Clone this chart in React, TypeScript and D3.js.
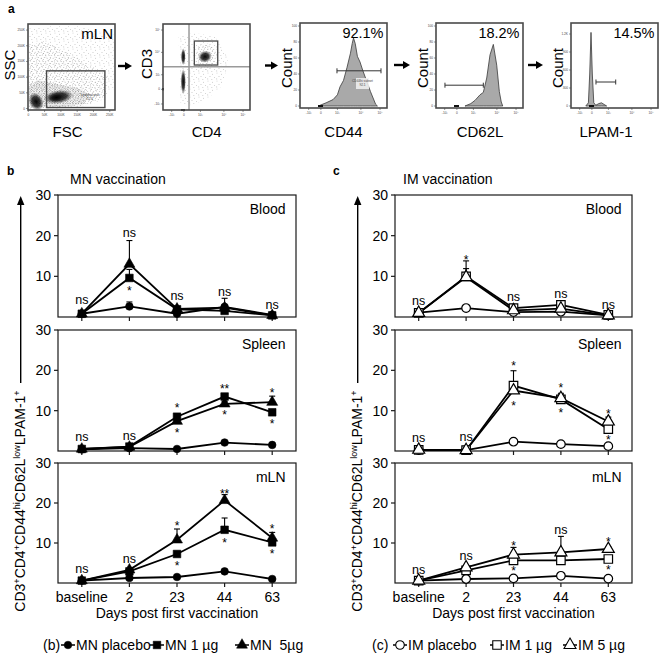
import * as d3 from "d3";

const FONT = "'Liberation Sans', Arial, Helvetica, sans-serif";

// ---------- line charts: % CD3+CD4+CD44hiCD62LlowLPAM-1+ ----------
const days = ["baseline", "2", "23", "44", "63"];
const yTicks = [10, 20, 30];

// MN vaccination
const mnPlaceboBlood = [0.8, 2.6, 0.8, 2.5, 0.5];
const mn1Blood = [0.8, 9.6, 1.9, 1.5, 0.4];
const mn5Blood = [0.8, 13.0, 2.0, 2.3, 0.4];
const mnPlaceboBloodErr = [0, 1.1, 0, 0, 0];
const mn1BloodErr = [0, 2.1, 0, 0.3, 0];
const mn5BloodErr = [0, 5.8, 0, 2.3, 0];

const mnPlaceboSpleen = [0.4, 0.7, 0.5, 2.1, 1.5];
const mn1Spleen = [0.5, 1.1, 8.5, 13.5, 9.6];
const mn5Spleen = [0.5, 1.0, 7.4, 11.7, 12.1];
const mnPlaceboSpleenErr = [0, 0, 0, 0, 0];
const mn1SpleenErr = [0, 0, 0.5, 0.5, 0.5];
const mn5SpleenErr = [0, 0, 0.5, 0.6, 1.5];

const mnPlaceboMln = [0.6, 1.25, 1.5, 2.9, 1.0];
const mn1Mln = [0.6, 2.9, 7.25, 13.3, 10.15];
const mn5Mln = [0.6, 3.3, 10.8, 20.65, 11.25];
const mnPlaceboMlnErr = [0, 0, 0, 0, 0];
const mn1MlnErr = [0, 0, 0, 2.95, 0.8];
const mn5MlnErr = [0, 0, 2.7, 1.45, 1.4];

// IM vaccination
const imPlaceboBlood = [1.1, 2.2, 1.2, 1.3, 0.4];
const im1Blood = [1.0, 10.0, 2.2, 3.0, 0.5];
const im5Blood = [1.0, 9.8, 1.65, 2.05, 0.4];
const imPlaceboBloodErr = [0, 0, 0, 0, 0];
const im1BloodErr = [0, 3.8, 0, 0.3, 0];
const im5BloodErr = [0, 2.1, 0, 0, 0];

const imPlaceboSpleen = [0.25, 0.2, 2.3, 1.7, 1.2];
const im1Spleen = [0.3, 0.2, 16.2, 12.8, 5.4];
const im5Spleen = [0.3, 0.2, 15.0, 13.1, 7.3];
const imPlaceboSpleenErr = [0, 0, 0, 0, 0];
const im1SpleenErr = [0, 0, 3.7, 1.5, 0.5];
const im5SpleenErr = [0, 0, 0.8, 0.8, 1.1];

const imPlaceboMln = [0.6, 1.0, 1.15, 1.8, 1.1];
const im1Mln = [0.6, 3.15, 5.65, 5.65, 6.0];
const im5Mln = [0.6, 3.9, 7.1, 7.65, 8.5];
const imPlaceboMlnErr = [0, 0, 0, 0, 0];
const im1MlnErr = [0, 0, 0, 0, 0];
const im5MlnErr = [0, 0, 1.8, 4.0, 0.5];

// significance marks: [day index, label, value where the label sits]
type Note = [number, string, number];
const mnBloodNotes: Note[] = [[0, "ns", 4.1], [1, "ns", 20.4], [1, "*", 7.1], [2, "ns", 4.9], [3, "ns", 6.0], [4, "ns", 2.9]];
const mnSpleenNotes: Note[] = [[0, "ns", 3.4], [1, "ns", 3.5], [2, "*", 11.4], [2, "*", 5.2], [3, "**", 16.0], [3, "*", 9.5], [4, "*", 15.0], [4, "*", 7.3]];
const mnMlnNotes: Note[] = [[0, "ns", 3.3], [1, "ns", 5.8], [2, "*", 15.0], [2, "*", 5.0], [3, "**", 22.9], [3, "*", 10.8], [4, "*", 14.2], [4, "*", 7.9]];
const imBloodNotes: Note[] = [[0, "ns", 3.7], [1, "*", 14.8], [2, "ns", 4.7], [3, "ns", 5.4], [4, "ns", 2.7]];
const imSpleenNotes: Note[] = [[0, "ns", 3.0], [1, "ns", 3.2], [2, "*", 21.8], [2, "*", 11.8], [3, "*", 16.4], [3, "*", 10.0], [4, "*", 9.8], [4, "*", 3.5]];
const imMlnNotes: Note[] = [[0, "ns", 3.2], [1, "ns", 6.5], [2, "*", 10.0], [2, "*", 3.75], [3, "ns", 13.1], [4, "*", 11.0], [4, "*", 3.9]];

const mnLegend = ["MN placebo", "MN 1 µg", "MN\u00a0 5µg"];
const imLegend = ["IM placebo", "IM 1 µg", "IM 5 µg"];

// ---------- flow cytometry panel (a) ----------
// histograms: [position along axis 0..1, count 0..100]
const cd44Hist = [[0.21, 0], [0.3, 4], [0.38, 8], [0.43, 14], [0.46, 24], [0.5, 32], [0.54, 48], [0.58, 66], [0.6, 78], [0.615, 85], [0.635, 78], [0.66, 62], [0.69, 55], [0.72, 45], [0.77, 30], [0.81, 18], [0.84, 10], [0.87, 2], [0.89, 0]];
const cd62lHist = [[0.333, 0], [0.4, 3], [0.448, 7], [0.506, 14], [0.544, 17], [0.583, 35], [0.621, 64], [0.659, 77], [0.698, 51], [0.728, 18], [0.75, 5], [0.767, 0]];
const lpamHist = [[0.17, 0], [0.2, 4], [0.215, 40], [0.23, 92], [0.245, 40], [0.262, 4], [0.285, 1], [0.32, 3], [0.35, 4], [0.38, 2], [0.41, 0]];
const cd44Gate = [0.425, 0.931, 44];
const cd62lGate = [0.103, 0.544, 26];
const lpamGate = [0.287, 0.514, 30];

const logTicks = [0.1, 0.24, 0.43, 0.7, 0.92];
const logTickLabels = ["-10³", "0", "10³", "10⁴", "10⁵"];
const countTicks = [0, 20, 40, 60, 80, 100];
const lpamCountTicks = [0, 22.5, 45, 67.5, 90];
const lpamCountLabels = ["0", "300", "600", "900", "1.2K"];
const linTicks = [0, 50, 100, 150, 200, 250];

// FSC/SSC (thousands)
const fscSparse = [[0, 0], [0, 255], [70, 262], [150, 262], [262, 235], [262, 60], [200, 15], [100, 0]];
const fscMid = [[0, 0], [0, 200], [50, 215], [150, 160], [245, 105], [235, 30], [160, 5]];
const fscDense = [[4, 3], [0, 70], [30, 90], [80, 80], [150, 65], [190, 45], [170, 14], [100, 4]];
const fscBlobs = [
  { a: 24, b: 22, rx: 22, ry: 30, angle: -25 },
  { a: 92, b: 37, rx: 46, ry: 22, angle: -8 },
  { a: 86, b: 35, rx: 24, ry: 13, angle: -8 },
];
const lymphGate = [56, 235, 3, 120];

// CD4 / CD3 (axis position 0..1)
const cd4Sparse = [[0.2, 0.08], [0.18, 0.85], [0.35, 0.9], [0.6, 0.85], [0.75, 0.6], [0.7, 0.3], [0.5, 0.12], [0.3, 0.05]];
const cd4Dense = [[0.38, 0.5], [0.37, 0.72], [0.5, 0.78], [0.62, 0.7], [0.6, 0.52], [0.48, 0.46]];
const cd4Blobs = [
  { a: 0.233, b: 0.62, rx: 0.028, ry: 0.1, angle: 0 },
  { a: 0.233, b: 0.33, rx: 0.03, ry: 0.15, angle: 0 },
  { a: 0.483, b: 0.62, rx: 0.08, ry: 0.07, angle: -20 },
];
const cd3Gate = [0.36, 0.629, 0.523, 0.802];
const cd4Quadrant = [0.299, 0.503];
const cd3TickPos = [0.07, 0.24, 0.41, 0.67, 0.93];

const INK = "#1a1a1a";
const FRAME = "#4a4a4a";

type Shape = "circle" | "square" | "triangle";
type Series = { values: number[]; err: number[]; shape: Shape };

function symbolPath(shape: Shape, open: boolean) {
  const type = shape === "circle" ? d3.symbolCircle : shape === "square" ? d3.symbolSquare : d3.symbolTriangle;
  const size = shape === "circle" ? (open ? 58 : 46) : shape === "square" ? (open ? 72 : 58) : open ? 62 : 52;
  return d3.symbol().type(type).size(size)() as string;
}

function LinePanel({
  left, right, top, bottom, tissue, series, notes, open, showDays,
}: {
  left: number; right: number; top: number; bottom: number; tissue: string;
  series: Series[]; notes: Note[]; open: boolean; showDays: boolean;
}) {
  const x = d3.scalePoint<string>().domain(days).range([left, right]).padding(0.5);
  const y = d3.scaleLinear().domain([0, 30]).range([bottom, top]);
  const line = d3.line<number>().x((_, i) => x(days[i]) as number).y((d) => y(d));
  return (
    <g fill="#000">
      <rect x={left} y={top} width={right - left} height={bottom - top} fill="none" stroke={INK} strokeWidth={1.2} />
      {yTicks.map((t) => (
        <g key={t}>
          <line x1={left - 4} x2={left} y1={y(t)} y2={y(t)} stroke={INK} strokeWidth={1.2} />
          <text x={left - 7} y={y(t) + 5} textAnchor="end" fontSize={14}>{t}</text>
        </g>
      ))}
      {days.map((d) => (
        <line key={d} x1={x(d)} x2={x(d)} y1={bottom} y2={bottom + 4} stroke={INK} strokeWidth={1.2} />
      ))}
      {showDays && days.map((d) => (
        <text key={"l" + d} x={x(d)} y={bottom + 18.5} textAnchor="middle" fontSize={14}>{d}</text>
      ))}
      {showDays && (
        <text x={(left + right) / 2} y={bottom + 35} textAnchor="middle" fontSize={14}>Days post first vaccination</text>
      )}
      <text x={right - 10.5} y={top + 19} textAnchor="end" fontSize={14}>{tissue}</text>
      {series.map((s, k) => (
        <path key={"p" + k} d={line(s.values) as string} fill="none" stroke="#000" strokeWidth={1.8} />
      ))}
      {series.map((s, k) =>
        s.err.map((e, i) => {
          if (e <= 0) return null;
          const cx = x(days[i]) as number;
          return (
            <g key={"e" + k + i} stroke="#000" strokeWidth={1.1}>
              <line x1={cx} x2={cx} y1={y(s.values[i])} y2={y(s.values[i] + e)} />
              <line x1={cx - 3} x2={cx + 3} y1={y(s.values[i] + e)} y2={y(s.values[i] + e)} />
            </g>
          );
        })
      )}
      {series.map((s, k) =>
        s.values.map((v, i) => (
          <path
            key={"m" + k + i}
            transform={`translate(${x(days[i])},${y(v)})`}
            d={symbolPath(s.shape, open)}
            fill={open ? "#fff" : "#000"}
            stroke="#000"
            strokeWidth={open ? 1.2 : 0.6}
          />
        ))
      )}
      {notes.map(([i, label, v], k) => (
        <text
          key={"n" + k}
          x={x(days[i])}
          y={y(v) + (label === "ns" ? 3.3 : 6.8)}
          textAnchor="middle"
          fontSize={label === "ns" ? 12.5 : 12}
          fill="#000"
        >
          {label}
        </text>
      ))}
    </g>
  );
}

function YLabel({ x }: { x: number }) {
  return (
    <g>
      <line x1={x - 4.3} x2={x - 4.3} y1={383} y2={203} stroke="#000" strokeWidth={1.4} />
      <path d={`M${x - 4.3},196 L${x - 8},205 L${x - 0.6},205 Z`} fill="#000" />
      <text transform={`translate(${x},501) rotate(-90)`} textAnchor="middle" fontSize={14}>
        CD3<tspan dy={-5} fontSize={9}>+</tspan>
        <tspan dy={5}>CD4</tspan><tspan dy={-5} fontSize={9}>+</tspan>
        <tspan dy={5}>CD44</tspan><tspan dy={-5} fontSize={9}>hi</tspan>
        <tspan dy={5}>CD62L</tspan><tspan dy={-5} fontSize={9}>low</tspan>
        <tspan dy={5}>LPAM-1</tspan><tspan dy={-5} fontSize={9}>+</tspan>
      </text>
    </g>
  );
}

function Legend({ tag, labels, open, starts }: { tag: string; labels: string[]; open: boolean; starts: number[] }) {
  const shapes: Shape[] = ["circle", "square", "triangle"];
  const y = 650;
  return (
    <g fontSize={14}>
      <text x={starts[0]} y={y}>{tag}</text>
      {labels.map((l, i) => {
        const x0 = starts[i + 1];
        return (
          <g key={l}>
            <line x1={x0} x2={x0 + 14} y1={y - 5} y2={y - 5} stroke="#000" strokeWidth={1.5} />
            <path
              transform={`translate(${x0 + 7},${y - 5})`}
              d={symbolPath(shapes[i], open)}
              fill={open ? "#fff" : "#000"}
              stroke="#000"
              strokeWidth={open ? 1.1 : 0.5}
            />
            <text x={x0 + 15} y={y}>{l}</text>
          </g>
        );
      })}
    </g>
  );
}

function Arrow({ x1, x2, y }: { x1: number; x2: number; y: number }) {
  return (
    <g>
      <line x1={x1} x2={x2 - 5} y1={y} y2={y} stroke="#000" strokeWidth={2.4} />
      <path d={`M${x2},${y} L${x2 - 7},${y - 4} L${x2 - 7},${y + 4} Z`} fill="#000" />
    </g>
  );
}

function Blob({ cx, cy, rx, ry, angle }: { cx: number; cy: number; rx: number; ry: number; angle: number }) {
  return (
    <ellipse cx={0} cy={0} rx={rx} ry={ry} fill="url(#blobGrad)" transform={`translate(${cx},${cy}) rotate(${angle})`} />
  );
}

function TinyText(props: any) {
  return <text fontSize={3.2} fill="#444" textAnchor="middle" {...props} />;
}

function FscPlot() {
  const L = 28, R = 115, T = 24, B = 110;
  const x = d3.scaleLinear().domain([0, 266]).range([28.3, 115]);
  const y = d3.scaleLinear().domain([0, 262]).range([108.5, 26.3]);
  const poly = (pts: number[][]) => (d3.line<number[]>().x((d) => x(d[0])).y((d) => y(d[1]))(pts) as string) + "Z";
  return (
    <g>
      <clipPath id="clipFsc"><rect x={L} y={T} width={R - L} height={B - T} /></clipPath>
      <g clipPath="url(#clipFsc)">
        <path d={poly(fscSparse)} fill="url(#stipA)" />
        <path d={poly(fscMid)} fill="url(#stipB)" />
        <path d={poly(fscDense)} fill="url(#stipC)" opacity={0.5} />
        {fscBlobs.map((b, i) => (
          <Blob key={i} cx={x(b.a)} cy={y(b.b)} rx={x(b.rx) - x(0)} ry={y(0) - y(b.ry)} angle={b.angle} />
        ))}
      </g>
      <rect x={x(lymphGate[0])} y={y(lymphGate[3])} width={x(lymphGate[1]) - x(lymphGate[0])} height={y(lymphGate[2]) - y(lymphGate[3])} fill="none" stroke={FRAME} strokeWidth={1.4} />
      <TinyText x={90} y={96}>Lymphocytes</TinyText>
      <TinyText x={90} y={100}>52.6</TinyText>
      <rect x={L} y={T} width={R - L} height={B - T} fill="none" stroke={FRAME} strokeWidth={1.6} />
      {linTicks.map((t) => (
        <g key={t}>
          <line x1={x(t)} x2={x(t)} y1={B} y2={B + 2} stroke={FRAME} strokeWidth={0.6} />
          <TinyText x={x(t)} y={B + 6}>{t === 0 ? "0" : t + "K"}</TinyText>
          <line x1={L - 2} x2={L} y1={y(t)} y2={y(t)} stroke={FRAME} strokeWidth={0.6} />
          <TinyText x={L - 3} y={y(t) + 1} textAnchor="end">{t === 0 ? "0" : t + "K"}</TinyText>
        </g>
      ))}
      <text x={113} y={38.5} textAnchor="end" fontSize={15}>mLN</text>
      <text transform="translate(15,65) rotate(-90)" textAnchor="middle" fontSize={15}>SSC</text>
      <text x={67.5} y={136.5} textAnchor="middle" fontSize={15}>FSC</text>
    </g>
  );
}

function Cd4Plot() {
  const L = 163, R = 250, T = 24, B = 110;
  const x = d3.scaleLinear().domain([0, 1]).range([L, R]);
  const y = d3.scaleLinear().domain([0, 1]).range([B, T]);
  const poly = (pts: number[][]) => (d3.line<number[]>().x((d) => x(d[0])).y((d) => y(d[1]))(pts) as string) + "Z";
  return (
    <g>
      <clipPath id="clipCd4"><rect x={L} y={T} width={R - L} height={B - T} /></clipPath>
      <g clipPath="url(#clipCd4)">
        <path d={poly(cd4Sparse)} fill="url(#stipA)" />
        <path d={poly(cd4Dense)} fill="url(#stipB)" />
        {cd4Blobs.map((b, i) => (
          <Blob key={i} cx={x(b.a)} cy={y(b.b)} rx={x(b.rx) - x(0)} ry={y(0) - y(b.ry)} angle={b.angle} />
        ))}
      </g>
      <line x1={x(cd4Quadrant[0])} x2={x(cd4Quadrant[0])} y1={T} y2={B} stroke="#8a8a8a" strokeWidth={1.3} />
      <line x1={L} x2={R} y1={y(cd4Quadrant[1])} y2={y(cd4Quadrant[1])} stroke="#9a9a9a" strokeWidth={1.4} />
      <rect x={x(cd3Gate[0])} y={y(cd3Gate[3])} width={x(cd3Gate[1]) - x(cd3Gate[0])} height={y(cd3Gate[2]) - y(cd3Gate[3])} fill="none" stroke={FRAME} strokeWidth={1.3} />
      <rect x={L - 1} y={88} width={2} height={2.4} fill="#111" />
      <rect x={181} y={B - 1} width={4} height={2} fill="#111" />
      <rect x={L} y={T} width={R - L} height={B - T} fill="none" stroke={FRAME} strokeWidth={1.6} />
      {logTicks.map((t, i) => (
        <g key={t}>
          <line x1={x(t)} x2={x(t)} y1={B} y2={B + 2} stroke={FRAME} strokeWidth={0.6} />
          <TinyText x={x(t)} y={B + 6}>{logTickLabels[i]}</TinyText>
          <line x1={L - 2} x2={L} y1={y(cd3TickPos[i])} y2={y(cd3TickPos[i])} stroke={FRAME} strokeWidth={0.6} />
          <TinyText x={L - 3} y={y(cd3TickPos[i]) + 1} textAnchor="end">{logTickLabels[i]}</TinyText>
        </g>
      ))}
      <text transform="translate(151.5,64) rotate(-90)" textAnchor="middle" fontSize={15}>CD3</text>
      <text x={206.7} y={136.5} textAnchor="middle" fontSize={15}>CD4</text>
    </g>
  );
}

function HistPlot({
  left, hist, gate, pct, xLabel, xLabelX, ticks, tickLabels, extra,
}: {
  left: number; hist: number[][]; gate: number[]; pct: string; xLabel: string; xLabelX: number;
  ticks: number[]; tickLabels: string[]; extra?: boolean;
}) {
  const L = left, R = left + 87, T = 23, B = 108;
  const x = d3.scaleLinear().domain([0, 1]).range([L, R]);
  const y = d3.scaleLinear().domain([0, 100]).range([106, 26]);
  const area = d3.area<number[]>().x((d) => x(d[0])).y0(y(0)).y1((d) => y(d[1]));
  const gy = y(gate[2]);
  return (
    <g>
      <path d={area(hist) as string} fill="#a9a9a9" stroke="#3a3a3a" strokeWidth={0.8} />
      <rect x={x(0.23) - 2} y={105} width={5} height={2} fill="#111" />
      <g stroke="#333" strokeWidth={1}>
        <line x1={x(gate[0])} x2={x(gate[1])} y1={gy} y2={gy} />
        <line x1={x(gate[0])} x2={x(gate[0])} y1={gy - 2.5} y2={gy + 2.5} />
        <line x1={x(gate[1])} x2={x(gate[1])} y1={gy - 2.5} y2={gy + 2.5} />
      </g>
      {extra && (
        <g>
          <rect x={356} y={78} width={13} height={11} fill="#f2f2f2" opacity={0.85} />
          <TinyText x={362.5} y={82}>CD44hi subset</TinyText>
          <TinyText x={362.5} y={86}>92.1</TinyText>
        </g>
      )}
      <rect x={L} y={T} width={R - L} height={B - T} fill="none" stroke={FRAME} strokeWidth={1.6} />
      {logTicks.map((t, i) => (
        <g key={t}>
          <line x1={x(t)} x2={x(t)} y1={B} y2={B + 2} stroke={FRAME} strokeWidth={0.6} />
          <TinyText x={x(t)} y={B + 6}>{logTickLabels[i]}</TinyText>
        </g>
      ))}
      {ticks.map((t, i) => (
        <g key={"y" + t}>
          <line x1={L - 2} x2={L} y1={y(t)} y2={y(t)} stroke={FRAME} strokeWidth={0.6} />
          <TinyText x={L - 3} y={y(t) + 1} textAnchor="end">{tickLabels[i]}</TinyText>
        </g>
      ))}
      <text x={R - 3.5} y={38} textAnchor="end" fontSize={14.5}>{pct}</text>
      <text transform={`translate(${L - 8.5},68) rotate(-90)`} textAnchor="middle" fontSize={15}>Count</text>
      <text x={xLabelX} y={136.5} textAnchor="middle" fontSize={15}>{xLabel}</text>
    </g>
  );
}

export default function App() {
  const mnBlood: Series[] = [
    { values: mnPlaceboBlood, err: mnPlaceboBloodErr, shape: "circle" },
    { values: mn1Blood, err: mn1BloodErr, shape: "square" },
    { values: mn5Blood, err: mn5BloodErr, shape: "triangle" },
  ];
  const mnSpleen: Series[] = [
    { values: mnPlaceboSpleen, err: mnPlaceboSpleenErr, shape: "circle" },
    { values: mn1Spleen, err: mn1SpleenErr, shape: "square" },
    { values: mn5Spleen, err: mn5SpleenErr, shape: "triangle" },
  ];
  const mnMln: Series[] = [
    { values: mnPlaceboMln, err: mnPlaceboMlnErr, shape: "circle" },
    { values: mn1Mln, err: mn1MlnErr, shape: "square" },
    { values: mn5Mln, err: mn5MlnErr, shape: "triangle" },
  ];
  const imBlood: Series[] = [
    { values: imPlaceboBlood, err: imPlaceboBloodErr, shape: "circle" },
    { values: im1Blood, err: im1BloodErr, shape: "square" },
    { values: im5Blood, err: im5BloodErr, shape: "triangle" },
  ];
  const imSpleen: Series[] = [
    { values: imPlaceboSpleen, err: imPlaceboSpleenErr, shape: "circle" },
    { values: im1Spleen, err: im1SpleenErr, shape: "square" },
    { values: im5Spleen, err: im5SpleenErr, shape: "triangle" },
  ];
  const imMln: Series[] = [
    { values: imPlaceboMln, err: imPlaceboMlnErr, shape: "circle" },
    { values: im1Mln, err: im1MlnErr, shape: "square" },
    { values: im5Mln, err: im5MlnErr, shape: "triangle" },
  ];

  return (
    <div style={{ position: "absolute", left: 0, top: 0 }}>
      <svg width={660} height={656} style={{ display: "block", background: "#fff" }} fontFamily={FONT}>
        <defs>
          <radialGradient id="blobGrad">
            <stop offset="0" stopColor="#000" stopOpacity={0.97} />
            <stop offset="0.55" stopColor="#111" stopOpacity={0.8} />
            <stop offset="1" stopColor="#333" stopOpacity={0} />
          </radialGradient>
          {/* stipple tiles standing in for the sparse dot cloud */}
          <pattern id="stipA" width={9} height={8} patternUnits="userSpaceOnUse">
            <circle cx={1} cy={1} r={0.36} fill="#666" />
            <circle cx={5.5} cy={2.2} r={0.36} fill="#777" />
            <circle cx={3} cy={4.6} r={0.36} fill="#666" />
            <circle cx={7.6} cy={5.3} r={0.36} fill="#777" />
            <circle cx={0.8} cy={6.9} r={0.36} fill="#666" />
            <circle cx={4.9} cy={7.4} r={0.36} fill="#777" />
          </pattern>
          <pattern id="stipB" width={6} height={6} patternUnits="userSpaceOnUse">
            <circle cx={0.7} cy={0.9} r={0.38} fill="#555" />
            <circle cx={3.8} cy={1.6} r={0.38} fill="#666" />
            <circle cx={2.2} cy={3.4} r={0.38} fill="#555" />
            <circle cx={5.1} cy={4.2} r={0.38} fill="#666" />
            <circle cx={1.2} cy={5.4} r={0.38} fill="#555" />
          </pattern>
          <pattern id="stipC" width={2.6} height={2.4} patternUnits="userSpaceOnUse">
            <circle cx={0.5} cy={0.5} r={0.5} fill="#222" />
            <circle cx={1.8} cy={1.7} r={0.5} fill="#222" />
          </pattern>
        </defs>

        {/* panel a */}
        <text x={8} y={12.5} fontSize={12} fontWeight="bold">a</text>
        <FscPlot />
        <Arrow x1={118} x2={132} y={66} />
        <Cd4Plot />
        <Arrow x1={265} x2={278} y={65.5} />
        <HistPlot left={300} hist={cd44Hist} gate={cd44Gate} pct="92.1%" xLabel="CD44" xLabelX={343.5} ticks={countTicks} tickLabels={countTicks.map(String)} extra />
        <Arrow x1={394} x2={410} y={65} />
        <HistPlot left={436} hist={cd62lHist} gate={cd62lGate} pct="18.2%" xLabel="CD62L" xLabelX={480} ticks={countTicks} tickLabels={countTicks.map(String)} />
        <Arrow x1={528} x2={543} y={65} />
        <HistPlot left={571} hist={lpamHist} gate={lpamGate} pct="14.5%" xLabel="LPAM-1" xLabelX={606} ticks={lpamCountTicks} tickLabels={lpamCountLabels} />

        {/* panel b */}
        <text x={7} y={175} fontSize={12} fontWeight="bold">b</text>
        <text x={70} y={184} fontSize={14}>MN vaccination</text>
        <YLabel x={25} />
        <LinePanel left={58} right={296} top={195} bottom={317} tissue="Blood" series={mnBlood} notes={mnBloodNotes} open={false} showDays={false} />
        <LinePanel left={58} right={296} top={330} bottom={451} tissue="Spleen" series={mnSpleen} notes={mnSpleenNotes} open={false} showDays={false} />
        <LinePanel left={58} right={296} top={463} bottom={583} tissue="mLN" series={mnMln} notes={mnMlnNotes} open={false} showDays />
        <Legend tag="(b)" labels={mnLegend} open={false} starts={[43, 61, 150, 235]} />

        {/* panel c */}
        <text x={333} y={175} fontSize={12} fontWeight="bold">c</text>
        <text x={403} y={184} fontSize={14}>IM vaccination</text>
        <YLabel x={362} />
        <LinePanel left={395} right={632} top={195} bottom={317} tissue="Blood" series={imBlood} notes={imBloodNotes} open showDays={false} />
        <LinePanel left={395} right={632} top={330} bottom={451} tissue="Spleen" series={imSpleen} notes={imSpleenNotes} open showDays={false} />
        <LinePanel left={395} right={632} top={463} bottom={583} tissue="mLN" series={imMln} notes={imMlnNotes} open showDays />
        <Legend tag="(c)" labels={imLegend} open starts={[372, 393, 490, 563]} />
      </svg>
    </div>
  );
}
